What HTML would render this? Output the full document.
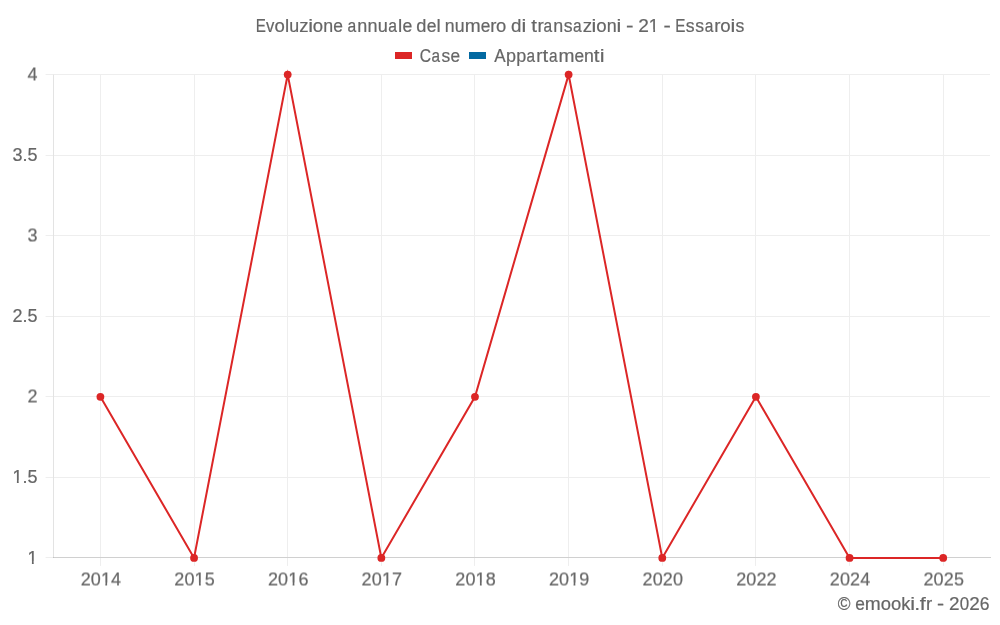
<!DOCTYPE html>
<html><head><meta charset="utf-8"><title>chart</title>
<style>
html,body{margin:0;padding:0;background:#fff;}
body{width:1000px;height:625px;overflow:hidden;position:relative;font-family:"Liberation Sans",sans-serif;}
svg{display:block;position:absolute;left:0;top:0}
#g,#ta{will-change:transform}
#t{will-change:transform;transform:translateY(0.5px) rotate(0.001deg)}
text{font-family:"Liberation Sans",sans-serif;font-size:18px;fill:#666666;stroke:#666666;stroke-width:0.2}
</style></head><body>

<svg id="g" width="1000" height="625" viewBox="0 0 1000 625">
<g fill="#eeeeee">
<rect x="45.58" y="557" width="944.45" height="1"/>
<rect x="45.58" y="477" width="944.45" height="1"/>
<rect x="45.58" y="396" width="944.45" height="1"/>
<rect x="45.58" y="316" width="944.45" height="1"/>
<rect x="45.58" y="235" width="944.45" height="1"/>
<rect x="45.58" y="155" width="944.45" height="1"/>
<rect x="45.58" y="74" width="944.45" height="1"/>
<rect x="100" y="74.60" width="1" height="491.30"/>
<rect x="194" y="74.60" width="1" height="491.30"/>
<rect x="287" y="74.60" width="1" height="491.30"/>
<rect x="381" y="74.60" width="1" height="491.30"/>
<rect x="474" y="74.60" width="1" height="491.30"/>
<rect x="568" y="74.60" width="1" height="491.30"/>
<rect x="662" y="74.60" width="1" height="491.30"/>
<rect x="755" y="74.60" width="1" height="491.30"/>
<rect x="849" y="74.60" width="1" height="491.30"/>
<rect x="943" y="74.60" width="1" height="491.30"/>
</g>
<rect x="53" y="74.60" width="1" height="483.30" fill="#e3e3e3"/>
<rect x="53" y="557" width="938" height="1" fill="#d0d0d0"/>
<rect x="53" y="557" width="1" height="1" fill="#c2c2c2"/>
<polyline points="100.40,396.80 194.05,557.90 287.69,74.60 381.34,557.90 474.98,396.80 568.62,74.60 662.27,557.90 755.91,396.80 849.56,557.90 943.20,557.90" fill="none" stroke="#dc2626" stroke-width="2" stroke-linejoin="miter" stroke-miterlimit="10"/>
<circle cx="100.40" cy="396.80" r="3.9" fill="#dc2626"/>
<circle cx="194.05" cy="557.90" r="3.9" fill="#dc2626"/>
<circle cx="287.69" cy="74.60" r="3.9" fill="#dc2626"/>
<circle cx="381.34" cy="557.90" r="3.9" fill="#dc2626"/>
<circle cx="474.98" cy="396.80" r="3.9" fill="#dc2626"/>
<circle cx="568.62" cy="74.60" r="3.9" fill="#dc2626"/>
<circle cx="662.27" cy="557.90" r="3.9" fill="#dc2626"/>
<circle cx="755.91" cy="396.80" r="3.9" fill="#dc2626"/>
<circle cx="849.56" cy="557.90" r="3.9" fill="#dc2626"/>
<circle cx="943.20" cy="557.90" r="3.9" fill="#dc2626"/>
<rect x="395" y="52" width="17" height="7" fill="#dc2626"/>
<rect x="469" y="52" width="17" height="7" fill="#0369a1"/>
</svg>
<svg id="ta" width="1000" height="625" viewBox="0 0 1000 625">
<text x="37.50" y="564" text-anchor="end">1</text>
<rect x="27.69" y="561.40" width="4.23" height="3.3" fill="#fff"/><rect x="33.71" y="561.40" width="3.70" height="3.3" fill="#fff"/>
<text x="37.50" y="483" text-anchor="end">1.5</text>
<rect x="12.67" y="480.40" width="4.23" height="3.3" fill="#fff"/><rect x="18.69" y="480.40" width="3.70" height="3.3" fill="#fff"/>
<text x="37.50" y="322" text-anchor="end">2.5</text>
<text x="37.50" y="161" text-anchor="end">3.5</text>
<text y="32"><tspan x="255.85" textLength="10.14" lengthAdjust="spacingAndGlyphs">E</tspan><tspan x="265.96" textLength="8.32" lengthAdjust="spacingAndGlyphs">v</tspan><tspan x="274.45" textLength="10.33" lengthAdjust="spacingAndGlyphs">o</tspan><tspan x="284.93" textLength="4.19" lengthAdjust="spacingAndGlyphs">l</tspan><tspan x="289.31" textLength="9.93" lengthAdjust="spacingAndGlyphs">u</tspan><tspan x="299.33" textLength="9.32" lengthAdjust="spacingAndGlyphs">z</tspan><tspan x="308.20" textLength="4.80" lengthAdjust="spacingAndGlyphs">i</tspan><tspan x="312.82" textLength="10.33" lengthAdjust="spacingAndGlyphs">o</tspan><tspan x="323.25" textLength="9.92" lengthAdjust="spacingAndGlyphs">n</tspan><tspan x="333.34" textLength="9.69" lengthAdjust="spacingAndGlyphs">e</tspan></text>
<text y="32"><tspan x="347.43" textLength="8.73" lengthAdjust="spacingAndGlyphs">a</tspan><tspan x="357.24">n</tspan><tspan x="367.46">n</tspan><tspan x="377.68" textLength="10.08" lengthAdjust="spacingAndGlyphs">u</tspan><tspan x="388.13" textLength="8.73" lengthAdjust="spacingAndGlyphs">a</tspan><tspan x="397.99" textLength="4.25" lengthAdjust="spacingAndGlyphs">l</tspan><tspan x="402.46" textLength="9.83" lengthAdjust="spacingAndGlyphs">e</tspan></text>
<text y="32"><tspan x="416.33" textLength="10.14" lengthAdjust="spacingAndGlyphs">d</tspan><tspan x="426.68" textLength="9.76" lengthAdjust="spacingAndGlyphs">e</tspan><tspan x="436.45" textLength="4.22" lengthAdjust="spacingAndGlyphs">l</tspan></text>
<text y="32"><tspan x="444.83" textLength="9.84" lengthAdjust="spacingAndGlyphs">n</tspan><tspan x="454.80" textLength="9.85" lengthAdjust="spacingAndGlyphs">u</tspan><tspan x="464.66" textLength="15.93" lengthAdjust="spacingAndGlyphs">m</tspan><tspan x="480.64" textLength="9.61" lengthAdjust="spacingAndGlyphs">e</tspan><tspan x="490.16" textLength="6.15" lengthAdjust="spacingAndGlyphs">r</tspan><tspan x="496.13" textLength="10.24" lengthAdjust="spacingAndGlyphs">o</tspan></text>
<text y="32"><tspan x="511.11" textLength="10.43" lengthAdjust="spacingAndGlyphs">d</tspan><tspan x="521.60" textLength="4.80" lengthAdjust="spacingAndGlyphs">i</tspan></text>
<text y="32"><tspan x="531.19" textLength="5.74" lengthAdjust="spacingAndGlyphs">t</tspan><tspan x="537.41" textLength="6.23" lengthAdjust="spacingAndGlyphs">r</tspan><tspan x="543.55" textLength="8.64" lengthAdjust="spacingAndGlyphs">a</tspan><tspan x="553.27" textLength="9.96" lengthAdjust="spacingAndGlyphs">n</tspan><tspan x="563.66" textLength="8.82" lengthAdjust="spacingAndGlyphs">s</tspan><tspan x="573.07" textLength="8.64" lengthAdjust="spacingAndGlyphs">a</tspan><tspan x="582.74" textLength="9.36" lengthAdjust="spacingAndGlyphs">z</tspan><tspan x="591.64" textLength="4.80" lengthAdjust="spacingAndGlyphs">i</tspan><tspan x="596.27" textLength="10.37" lengthAdjust="spacingAndGlyphs">o</tspan><tspan x="606.74" textLength="9.96" lengthAdjust="spacingAndGlyphs">n</tspan><tspan x="616.63" textLength="4.80" lengthAdjust="spacingAndGlyphs">i</tspan></text>
<text y="32"><tspan x="626.00" textLength="7.50" lengthAdjust="spacingAndGlyphs">-</tspan></text>
<text y="32"><tspan x="638.24" textLength="10.63" lengthAdjust="spacingAndGlyphs">2</tspan><tspan x="648.83">1</tspan></text>
<rect x="649.03" y="29.40" width="4.23" height="3.3" fill="#fff"/><rect x="655.05" y="29.40" width="3.70" height="3.3" fill="#fff"/>
<text y="32"><tspan x="663.43" textLength="7.30" lengthAdjust="spacingAndGlyphs">-</tspan></text>
<text y="32"><tspan x="675.35" textLength="10.17" lengthAdjust="spacingAndGlyphs">E</tspan><tspan x="685.83" textLength="8.82" lengthAdjust="spacingAndGlyphs">s</tspan><tspan x="695.28" textLength="8.82" lengthAdjust="spacingAndGlyphs">s</tspan><tspan x="704.67" textLength="8.64" lengthAdjust="spacingAndGlyphs">a</tspan><tspan x="714.33" textLength="6.22" lengthAdjust="spacingAndGlyphs">r</tspan><tspan x="720.37" textLength="10.36" lengthAdjust="spacingAndGlyphs">o</tspan><tspan x="730.62" textLength="4.80" lengthAdjust="spacingAndGlyphs">i</tspan><tspan x="735.57" textLength="8.82" lengthAdjust="spacingAndGlyphs">s</tspan></text>
<text y="62"><tspan x="419.71" textLength="11.28" lengthAdjust="spacingAndGlyphs">C</tspan><tspan x="431.51" textLength="8.54" lengthAdjust="spacingAndGlyphs">a</tspan><tspan x="441.39" textLength="8.72" lengthAdjust="spacingAndGlyphs">s</tspan><tspan x="450.46" textLength="9.61" lengthAdjust="spacingAndGlyphs">e</tspan></text>
<text y="62"><tspan x="494.37" textLength="11.39" lengthAdjust="spacingAndGlyphs">A</tspan><tspan x="506.03">p</tspan><tspan x="516.20">p</tspan><tspan x="526.60" textLength="8.55" lengthAdjust="spacingAndGlyphs">a</tspan><tspan x="536.15" textLength="6.16" lengthAdjust="spacingAndGlyphs">r</tspan><tspan x="542.49" textLength="5.68" lengthAdjust="spacingAndGlyphs">t</tspan><tspan x="548.96" textLength="8.55" lengthAdjust="spacingAndGlyphs">a</tspan><tspan x="558.44" textLength="15.96" lengthAdjust="spacingAndGlyphs">m</tspan><tspan x="574.47" textLength="9.62" lengthAdjust="spacingAndGlyphs">e</tspan><tspan x="584.05" textLength="9.85" lengthAdjust="spacingAndGlyphs">n</tspan><tspan x="593.75" textLength="5.68" lengthAdjust="spacingAndGlyphs">t</tspan><tspan x="599.74" textLength="4.80" lengthAdjust="spacingAndGlyphs">i</tspan></text>
<text y="610"><tspan x="837.74" textLength="12.73" lengthAdjust="spacingAndGlyphs">©</tspan></text>
<text y="610"><tspan x="855.27" textLength="9.62" lengthAdjust="spacingAndGlyphs">e</tspan><tspan x="864.72" textLength="15.95" lengthAdjust="spacingAndGlyphs">m</tspan><tspan x="880.69" textLength="10.25" lengthAdjust="spacingAndGlyphs">o</tspan><tspan x="891.01" textLength="10.25" lengthAdjust="spacingAndGlyphs">o</tspan><tspan x="901.31" textLength="9.12" lengthAdjust="spacingAndGlyphs">k</tspan><tspan x="910.30" textLength="4.80" lengthAdjust="spacingAndGlyphs">i</tspan><tspan x="914.19" textLength="5.93" lengthAdjust="spacingAndGlyphs">.</tspan><tspan x="919.89" textLength="6.00" lengthAdjust="spacingAndGlyphs">f</tspan><tspan x="925.95" textLength="6.16" lengthAdjust="spacingAndGlyphs">r</tspan></text>
<text y="610"><tspan x="937.05" textLength="7.09" lengthAdjust="spacingAndGlyphs">-</tspan></text>
<text y="610"><tspan x="949.05" textLength="10.53" lengthAdjust="spacingAndGlyphs">2</tspan><tspan x="959.64" textLength="9.41" lengthAdjust="spacingAndGlyphs">0</tspan><tspan x="969.28" textLength="10.53" lengthAdjust="spacingAndGlyphs">2</tspan><tspan x="979.82" textLength="9.75" lengthAdjust="spacingAndGlyphs">6</tspan></text>
</svg>
<svg id="t" width="1000" height="625" viewBox="0 0 1000 625">
<text x="37.50" y="402" text-anchor="end">2</text>
<text x="37.50" y="241" text-anchor="end">3</text>
<text x="37.50" y="80" text-anchor="end">4</text>
<text x="100.90" y="585" text-anchor="middle" textLength="40.44" lengthAdjust="spacing">2014</text>
<rect x="101.10" y="582.40" width="4.23" height="3.3" fill="#fff"/><rect x="107.12" y="582.40" width="3.70" height="3.3" fill="#fff"/>
<text x="194.55" y="585" text-anchor="middle" textLength="40.44" lengthAdjust="spacing">2015</text>
<rect x="194.75" y="582.40" width="4.23" height="3.3" fill="#fff"/><rect x="200.77" y="582.40" width="3.70" height="3.3" fill="#fff"/>
<text x="288.19" y="585" text-anchor="middle" textLength="40.44" lengthAdjust="spacing">2016</text>
<rect x="288.39" y="582.40" width="4.23" height="3.3" fill="#fff"/><rect x="294.41" y="582.40" width="3.70" height="3.3" fill="#fff"/>
<text x="381.84" y="585" text-anchor="middle" textLength="40.44" lengthAdjust="spacing">2017</text>
<rect x="382.04" y="582.40" width="4.23" height="3.3" fill="#fff"/><rect x="388.06" y="582.40" width="3.70" height="3.3" fill="#fff"/>
<text x="475.48" y="585" text-anchor="middle" textLength="40.44" lengthAdjust="spacing">2018</text>
<rect x="475.68" y="582.40" width="4.23" height="3.3" fill="#fff"/><rect x="481.70" y="582.40" width="3.70" height="3.3" fill="#fff"/>
<text x="569.12" y="585" text-anchor="middle" textLength="40.44" lengthAdjust="spacing">2019</text>
<rect x="569.33" y="582.40" width="4.23" height="3.3" fill="#fff"/><rect x="575.35" y="582.40" width="3.70" height="3.3" fill="#fff"/>
<text x="662.77" y="585" text-anchor="middle" textLength="40.44" lengthAdjust="spacing">2020</text>
<text x="756.41" y="585" text-anchor="middle" textLength="40.44" lengthAdjust="spacing">2022</text>
<text x="850.06" y="585" text-anchor="middle" textLength="40.44" lengthAdjust="spacing">2024</text>
<text x="943.70" y="585" text-anchor="middle" textLength="40.44" lengthAdjust="spacing">2025</text>
</svg>
</body></html>
